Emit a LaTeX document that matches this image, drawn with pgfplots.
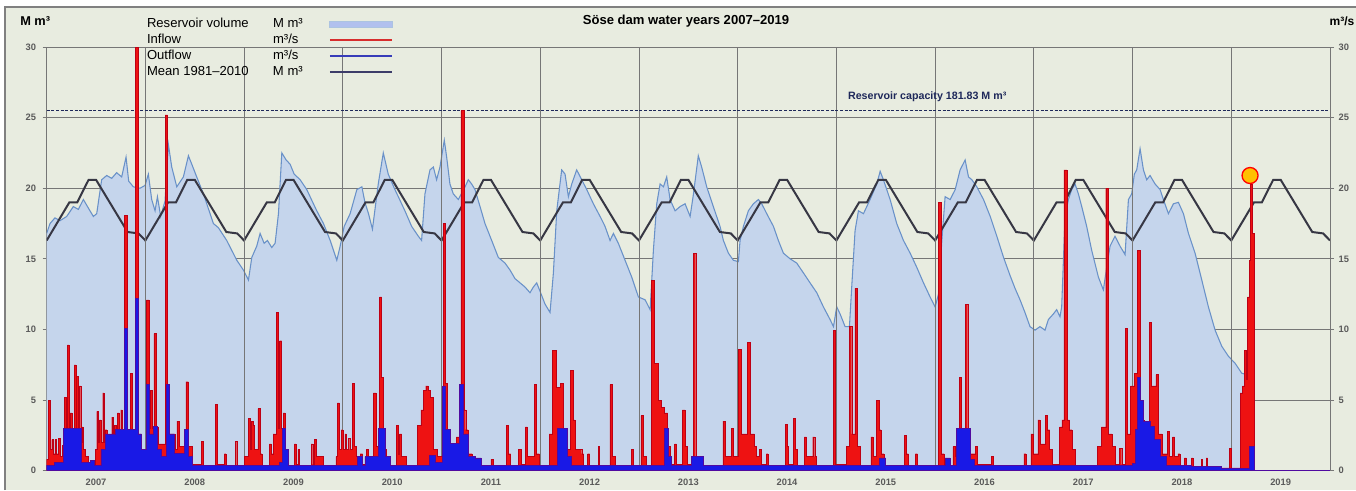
\documentclass[border=0pt]{standalone}
\usepackage{fontspec}
\setmainfont{Liberation Sans}
\usepackage{pgfplots}
\pgfplotsset{compat=1.18}
\definecolor{bgc}{RGB}{232,236,224}
\definecolor{volfill}{RGB}{197,213,236}
\definecolor{volline}{RGB}{105,145,200}
\definecolor{infill}{RGB}{238,18,18}
\definecolor{inedge}{RGB}{190,0,20}
\definecolor{outfill}{RGB}{25,25,230}
\definecolor{outedge}{RGB}{80,10,160}
\definecolor{meanc}{RGB}{55,55,68}
\definecolor{capc}{RGB}{30,40,90}
\definecolor{gridc}{RGB}{118,118,118}
\definecolor{tickc}{RGB}{90,90,90}
\definecolor{orangec}{RGB}{255,192,0}
\begin{document}
\begin{tikzpicture}
\useasboundingbox (0,0) rectangle (1017pt,367.5pt);
\fill[white] (0,0) rectangle (1017pt,367.5pt);
\fill[bgc] (3.75pt,0) rectangle (1017pt,362.25pt);
\draw[gray, line width=0.8pt] (3.75pt,0) -- (3.75pt,362.25pt) -- (1017pt,362.25pt);
\node[font=\fontsize{9.8}{11}\selectfont\bfseries] at (514.5pt,351.5pt) {Söse dam water years 2007–2019};
\node[anchor=west, inner sep=0pt, font=\fontsize{9.6}{11}\selectfont\bfseries] at (15pt,351.5pt) {M m³};
\node[anchor=east, inner sep=0pt, font=\fontsize{9}{11}\selectfont\bfseries] at (1016pt,351.5pt) {m³/s};
\begin{axis}[
  at={(35pt,14.5pt)}, anchor=south west, scale only axis,
  width=962.5pt, height=317.75pt,
  xmin=0, xmax=13, ymin=0, ymax=30,
  axis line style={draw=gridc, line width=0.7pt},
  xtick={0.5,1.5,2.5,3.5,4.5,5.5,6.5,7.5,8.5,9.5,10.5,11.5,12.5},
  xticklabels={2007,2008,2009,2010,2011,2012,2013,2014,2015,2016,2017,2018,2019},
  x tick style={draw=none}, x tick label style={yshift=0pt},
  ytick={0,5,10,15,20,25,30}, ytick pos=left,
  tick align=outside, major tick length=3pt,
  y tick style={draw=gridc, line width=0.7pt},
  y tick label style={xshift=-1.5pt},
  ymajorgrids, grid style={draw=gridc, line width=0.7pt},
  /pgf/number format/assume math mode=true,
  ticklabel style={font=\fontsize{7}{8}\selectfont\bfseries, text=tickc},
  legend style={at={(axis description cs:0.0782,1.070)}, anchor=north west,
    draw=none, fill=none, inner sep=0pt, outer sep=0pt,
    font=\fontsize{9.8}{11}\selectfont, row sep=2pt, column sep=1.5pt,
    nodes={inner sep=0pt, text height=7.5pt, text depth=2.5pt}},
  legend plot pos=right, legend cell align=left,
]
\addlegendimage{legend image code/.code={\draw[fill=volfill!90!blue, draw=volline!55!white, line width=0.6pt] (0pt,-2.2pt) rectangle (47pt,2.2pt);}}
\addlegendentry{\makebox[94.5pt][l]{Reservoir volume}\makebox[40pt][l]{M m³}}
\addlegendimage{legend image code/.code={\draw[color={rgb,255:red,215;green,45;blue,45}, line width=1.5pt] (0pt,0pt) -- (47pt,0pt);}}
\addlegendentry{\makebox[94.5pt][l]{Inflow}\makebox[40pt][l]{m³/s}}
\addlegendimage{legend image code/.code={\draw[color={rgb,255:red,55;green,60;blue,185}, line width=2.2pt] (0pt,0pt) -- (47pt,0pt);}}
\addlegendentry{\makebox[94.5pt][l]{Outflow}\makebox[40pt][l]{m³/s}}
\addlegendimage{legend image code/.code={\draw[color={rgb,255:red,60;green,60;blue,105}, line width=2.2pt] (0pt,0pt) -- (47pt,0pt);}}
\addlegendentry{\makebox[94.5pt][l]{Mean 1981–2010}\makebox[40pt][l]{M m³}}
% reservoir volume
\addplot[draw=none, fill=volfill, forget plot] coordinates {
(0.000,16.8) (0.034,17.5) (0.084,17.9) (0.135,17.7) (0.203,18.0) (0.270,18.7) (0.321,18.5) (0.372,19.2) (0.422,18.6) (0.473,18.0) (0.507,18.2) (0.557,20.6) (0.608,20.9) (0.659,20.7) (0.709,21.1) (0.760,20.8) (0.804,22.2) (0.831,20.5) (0.878,20.1) (0.946,20.0) (0.997,20.2)
(1.030,21.0) (1.064,19.2) (1.098,18.4) (1.122,19.4) (1.155,18.0) (1.199,19.1) (1.233,23.1) (1.267,21.5) (1.318,20.1) (1.385,20.8) (1.436,22.3) (1.470,21.7) (1.520,20.8) (1.588,19.6) (1.689,17.5) (1.740,17.2) (1.824,16.3) (1.926,14.9) (1.993,14.2)
(2.044,13.5) (2.078,15.1) (2.128,15.9) (2.162,16.8) (2.203,16.1) (2.236,16.3) (2.280,15.8) (2.314,16.1) (2.348,18.2) (2.382,22.5) (2.426,22.0) (2.466,21.7) (2.507,21.0) (2.568,20.6) (2.635,19.9) (2.736,18.4) (2.804,17.5) (2.872,16.3) (2.939,14.9) (2.973,15.9)
(3.014,17.3) (3.074,18.2) (3.142,19.9) (3.193,20.1) (3.224,19.0) (3.260,18.2) (3.300,17.1) (3.359,20.3) (3.410,22.5) (3.460,21.0) (3.528,19.9) (3.562,19.4) (3.629,18.4) (3.697,17.3) (3.765,16.6) (3.798,16.3) (3.832,19.6) (3.883,21.3) (3.917,21.5) (3.950,20.6) (3.984,21.5)
(4.028,23.4) (4.052,22.2) (4.085,20.3) (4.119,19.6) (4.170,19.2) (4.238,20.1) (4.271,20.6) (4.305,20.3) (4.339,19.9) (4.390,18.7) (4.440,17.5) (4.508,16.3) (4.575,15.1) (4.643,14.7) (4.694,14.2) (4.744,13.6) (4.795,13.3) (4.846,13.0) (4.896,12.6) (4.930,13.0) (4.964,13.3) (4.998,12.7)
(5.048,11.8) (5.099,11.2) (5.133,14.0) (5.167,18.4) (5.217,21.3) (5.251,21.0) (5.285,19.4) (5.319,20.3) (5.369,21.3) (5.420,20.6) (5.471,19.9) (5.538,18.9) (5.606,18.0) (5.656,17.3) (5.707,16.3) (5.741,16.8) (5.791,16.1) (5.859,14.9) (5.927,13.7) (5.994,12.3)
(6.062,12.1) (6.113,11.4) (6.146,15.6) (6.180,18.9) (6.214,20.3) (6.248,20.1) (6.281,20.8) (6.315,19.2) (6.366,18.4) (6.416,18.7) (6.467,18.9) (6.518,18.0) (6.550,19.5) (6.601,22.3) (6.635,21.5) (6.686,20.1) (6.753,18.7) (6.821,17.3) (6.855,16.3) (6.906,15.4) (6.956,14.9)
(7.007,14.8) (7.024,16.3) (7.058,17.3) (7.108,18.4) (7.159,18.9) (7.210,19.2) (7.243,18.9) (7.294,18.2) (7.362,17.3) (7.412,16.3) (7.463,15.4) (7.531,15.0) (7.598,14.7) (7.666,14.0) (7.733,13.3) (7.801,12.6) (7.868,11.6) (7.936,10.7) (7.970,10.2)
(8.003,11.6) (8.037,11.1) (8.088,10.2) (8.132,10.2) (8.155,13.0) (8.189,17.0) (8.223,18.4) (8.274,18.2) (8.341,19.2) (8.409,20.3) (8.443,21.2) (8.476,20.6) (8.544,19.2) (8.611,17.5) (8.679,16.3) (8.747,15.4) (8.814,14.4) (8.882,13.3) (8.949,12.3)
(9.000,11.6) (9.034,12.5) (9.068,16.3) (9.101,19.4) (9.152,19.2) (9.203,19.9) (9.253,21.3) (9.304,22.0) (9.338,20.8) (9.372,20.6) (9.422,20.1) (9.490,19.2) (9.558,18.0) (9.625,16.6) (9.693,15.1) (9.760,13.8) (9.810,12.9) (9.860,12.1) (9.910,11.2) (9.961,10.2)
(10.012,9.95) (10.062,10.2) (10.113,9.95) (10.147,10.7) (10.198,11.1) (10.231,11.4) (10.265,10.9) (10.282,11.6) (10.316,18.0) (10.350,19.2) (10.383,19.9) (10.417,20.3) (10.451,19.6) (10.485,18.7) (10.535,17.3) (10.586,15.6) (10.654,13.7) (10.704,12.8) (10.738,14.4) (10.772,15.9) (10.822,16.6) (10.873,15.9) (10.924,15.3) (10.958,19.2) (10.991,19.6)
(11.018,21.0) (11.042,21.3) (11.076,22.8) (11.110,21.3) (11.143,20.6) (11.177,20.9) (11.228,20.3) (11.279,19.9) (11.312,19.2) (11.363,18.2) (11.414,18.9) (11.464,19.0) (11.515,18.2) (11.566,16.8) (11.633,15.4) (11.701,13.5) (11.768,11.6) (11.836,9.95) (11.904,8.8) (11.971,8.1)
(12.039,7.6) (12.106,6.9) (12.157,6.8) (12.160,0)
} \closedcycle;
\addplot[draw=volline, line width=0.8pt, forget plot] coordinates {
(0.000,16.8) (0.034,17.5) (0.084,17.9) (0.135,17.7) (0.203,18.0) (0.270,18.7) (0.321,18.5) (0.372,19.2) (0.422,18.6) (0.473,18.0) (0.507,18.2) (0.557,20.6) (0.608,20.9) (0.659,20.7) (0.709,21.1) (0.760,20.8) (0.804,22.2) (0.831,20.5) (0.878,20.1) (0.946,20.0) (0.997,20.2)
(1.030,21.0) (1.064,19.2) (1.098,18.4) (1.122,19.4) (1.155,18.0) (1.199,19.1) (1.233,23.1) (1.267,21.5) (1.318,20.1) (1.385,20.8) (1.436,22.3) (1.470,21.7) (1.520,20.8) (1.588,19.6) (1.689,17.5) (1.740,17.2) (1.824,16.3) (1.926,14.9) (1.993,14.2)
(2.044,13.5) (2.078,15.1) (2.128,15.9) (2.162,16.8) (2.203,16.1) (2.236,16.3) (2.280,15.8) (2.314,16.1) (2.348,18.2) (2.382,22.5) (2.426,22.0) (2.466,21.7) (2.507,21.0) (2.568,20.6) (2.635,19.9) (2.736,18.4) (2.804,17.5) (2.872,16.3) (2.939,14.9) (2.973,15.9)
(3.014,17.3) (3.074,18.2) (3.142,19.9) (3.193,20.1) (3.224,19.0) (3.260,18.2) (3.300,17.1) (3.359,20.3) (3.410,22.5) (3.460,21.0) (3.528,19.9) (3.562,19.4) (3.629,18.4) (3.697,17.3) (3.765,16.6) (3.798,16.3) (3.832,19.6) (3.883,21.3) (3.917,21.5) (3.950,20.6) (3.984,21.5)
(4.028,23.4) (4.052,22.2) (4.085,20.3) (4.119,19.6) (4.170,19.2) (4.238,20.1) (4.271,20.6) (4.305,20.3) (4.339,19.9) (4.390,18.7) (4.440,17.5) (4.508,16.3) (4.575,15.1) (4.643,14.7) (4.694,14.2) (4.744,13.6) (4.795,13.3) (4.846,13.0) (4.896,12.6) (4.930,13.0) (4.964,13.3) (4.998,12.7)
(5.048,11.8) (5.099,11.2) (5.133,14.0) (5.167,18.4) (5.217,21.3) (5.251,21.0) (5.285,19.4) (5.319,20.3) (5.369,21.3) (5.420,20.6) (5.471,19.9) (5.538,18.9) (5.606,18.0) (5.656,17.3) (5.707,16.3) (5.741,16.8) (5.791,16.1) (5.859,14.9) (5.927,13.7) (5.994,12.3)
(6.062,12.1) (6.113,11.4) (6.146,15.6) (6.180,18.9) (6.214,20.3) (6.248,20.1) (6.281,20.8) (6.315,19.2) (6.366,18.4) (6.416,18.7) (6.467,18.9) (6.518,18.0) (6.550,19.5) (6.601,22.3) (6.635,21.5) (6.686,20.1) (6.753,18.7) (6.821,17.3) (6.855,16.3) (6.906,15.4) (6.956,14.9)
(7.007,14.8) (7.024,16.3) (7.058,17.3) (7.108,18.4) (7.159,18.9) (7.210,19.2) (7.243,18.9) (7.294,18.2) (7.362,17.3) (7.412,16.3) (7.463,15.4) (7.531,15.0) (7.598,14.7) (7.666,14.0) (7.733,13.3) (7.801,12.6) (7.868,11.6) (7.936,10.7) (7.970,10.2)
(8.003,11.6) (8.037,11.1) (8.088,10.2) (8.132,10.2) (8.155,13.0) (8.189,17.0) (8.223,18.4) (8.274,18.2) (8.341,19.2) (8.409,20.3) (8.443,21.2) (8.476,20.6) (8.544,19.2) (8.611,17.5) (8.679,16.3) (8.747,15.4) (8.814,14.4) (8.882,13.3) (8.949,12.3)
(9.000,11.6) (9.034,12.5) (9.068,16.3) (9.101,19.4) (9.152,19.2) (9.203,19.9) (9.253,21.3) (9.304,22.0) (9.338,20.8) (9.372,20.6) (9.422,20.1) (9.490,19.2) (9.558,18.0) (9.625,16.6) (9.693,15.1) (9.760,13.8) (9.810,12.9) (9.860,12.1) (9.910,11.2) (9.961,10.2)
(10.012,9.95) (10.062,10.2) (10.113,9.95) (10.147,10.7) (10.198,11.1) (10.231,11.4) (10.265,10.9) (10.282,11.6) (10.316,18.0) (10.350,19.2) (10.383,19.9) (10.417,20.3) (10.451,19.6) (10.485,18.7) (10.535,17.3) (10.586,15.6) (10.654,13.7) (10.704,12.8) (10.738,14.4) (10.772,15.9) (10.822,16.6) (10.873,15.9) (10.924,15.3) (10.958,19.2) (10.991,19.6)
(11.018,21.0) (11.042,21.3) (11.076,22.8) (11.110,21.3) (11.143,20.6) (11.177,20.9) (11.228,20.3) (11.279,19.9) (11.312,19.2) (11.363,18.2) (11.414,18.9) (11.464,19.0) (11.515,18.2) (11.566,16.8) (11.633,15.4) (11.701,13.5) (11.768,11.6) (11.836,9.95) (11.904,8.8) (11.971,8.1)
(12.039,7.6) (12.106,6.9) (12.157,6.8)
};
% mean 1981-2010
\addplot[draw=meanc, line width=1.5pt, forget plot] coordinates {
(0,16.3) (0.23,19.0) (0.31,19.0) (0.425,20.6) (0.5,20.6) (0.82,16.9) (0.93,16.8)
(1,16.3) (1.23,19.0) (1.31,19.0) (1.425,20.6) (1.5,20.6) (1.82,16.9) (1.93,16.8)
(2,16.3) (2.23,19.0) (2.31,19.0) (2.425,20.6) (2.5,20.6) (2.82,16.9) (2.93,16.8)
(3,16.3) (3.23,19.0) (3.31,19.0) (3.425,20.6) (3.5,20.6) (3.82,16.9) (3.93,16.8)
(4,16.3) (4.23,19.0) (4.31,19.0) (4.425,20.6) (4.5,20.6) (4.82,16.9) (4.93,16.8)
(5,16.3) (5.23,19.0) (5.31,19.0) (5.425,20.6) (5.5,20.6) (5.82,16.9) (5.93,16.8)
(6,16.3) (6.23,19.0) (6.31,19.0) (6.425,20.6) (6.5,20.6) (6.82,16.9) (6.93,16.8)
(7,16.3) (7.23,19.0) (7.31,19.0) (7.425,20.6) (7.5,20.6) (7.82,16.9) (7.93,16.8)
(8,16.3) (8.23,19.0) (8.31,19.0) (8.425,20.6) (8.5,20.6) (8.82,16.9) (8.93,16.8)
(9,16.3) (9.23,19.0) (9.31,19.0) (9.425,20.6) (9.5,20.6) (9.82,16.9) (9.93,16.8)
(10,16.3) (10.23,19.0) (10.31,19.0) (10.425,20.6) (10.5,20.6) (10.82,16.9) (10.93,16.8)
(11,16.3) (11.23,19.0) (11.31,19.0) (11.425,20.6) (11.5,20.6) (11.82,16.9) (11.93,16.8)
(12,16.3) (12.23,19.0) (12.31,19.0) (12.425,20.6) (12.5,20.6) (12.82,16.9) (12.93,16.8)
(13,16.3)
};
% vertical grid lines
\addplot[draw=gridc, line width=0.7pt, forget plot, unbounded coords=jump] coordinates {
(1,0) (1,30) (1,nan) (2,0) (2,30) (2,nan) (3,0) (3,30) (3,nan) (4,0) (4,30) (4,nan)
(5,0) (5,30) (5,nan) (6,0) (6,30) (6,nan) (7,0) (7,30) (7,nan) (8,0) (8,30) (8,nan)
(9,0) (9,30) (9,nan) (10,0) (10,30) (10,nan) (11,0) (11,30) (11,nan) (12,0) (12,30)
};
% reservoir capacity
\addplot[draw=capc, line width=1pt, dash pattern=on 2.2pt off 1.3pt, forget plot] coordinates {(0,25.5) (13,25.5)};
% inflow
\addplot[const plot, fill=infill, draw=inedge, line width=0.3pt, forget plot] coordinates {
(0,0.8) (0.017,5.0) (0.035,1.5) (0.051,2.2) (0.065,1.2) (0.084,2.2) (0.100,1.2) (0.118,2.3) (0.135,1.0) (0.160,1.8) (0.176,5.2) (0.195,2.5) (0.209,8.9) (0.225,2.5) (0.236,4.1) (0.255,2.0) (0.277,7.5) (0.295,3.0) (0.304,6.7) (0.318,3.0) (0.331,6.0) (0.345,2.0) (0.355,3.1) (0.370,1.5) (0.389,1.0) (0.420,0.35) (0.460,0.45) (0.490,1.5) (0.507,4.2) (0.520,2.0) (0.534,3.6) (0.550,2.0) (0.568,5.5) (0.580,2.0) (0.591,2.9) (0.610,1.5) (0.625,1.9) (0.645,1.5) (0.659,3.8) (0.672,2.0) (0.682,3.2) (0.700,1.8) (0.716,4.1) (0.735,2.0) (0.750,4.3) (0.765,1.9) (0.790,18.1) (0.815,2.6) (0.845,6.9) (0.865,2.2) (0.895,30) (0.930,2.6) (0.960,1.5) (0.985,1.2)
(1.010,12.1) (1.035,3.0) (1.050,5.7) (1.070,3.0) (1.085,9.7) (1.105,3.1) (1.130,1.9) (1.200,25.2) (1.225,6.0) (1.245,2.6) (1.300,1.5) (1.320,3.5) (1.345,1.7) (1.410,6.3) (1.435,1.7) (1.470,0.45) (1.570,2.1) (1.590,0.35) (1.710,4.7) (1.730,0.45) (1.800,1.2) (1.815,0.3) (1.910,2.1) (1.925,0.35)
(2.000,1.0) (2.040,3.7) (2.060,1.5) (2.075,3.5) (2.090,3.2) (2.105,1.5) (2.140,4.4) (2.160,1.2) (2.180,0.35) (2.255,1.9) (2.275,1.2) (2.295,2.6) (2.325,11.2) (2.345,3.0) (2.360,9.2) (2.380,3.0) (2.395,4.1) (2.415,1.5) (2.450,0.4) (2.510,1.9) (2.525,0.45) (2.545,1.5) (2.560,0.35) (2.680,1.9) (2.695,0.45) (2.715,2.2) (2.730,1.0) (2.800,0.35) (2.930,1.0) (2.945,4.8) (2.965,1.5) (2.985,2.9)
(3.000,1.5) (3.020,2.6) (3.035,1.5) (3.055,2.3) (3.070,1.5) (3.100,6.2) (3.120,1.7) (3.140,1.0) (3.175,1.2) (3.200,0.45) (3.241,1.5) (3.260,0.45) (3.310,5.5) (3.335,1.7) (3.372,12.3) (3.392,6.6) (3.410,1.5) (3.440,0.35) (3.540,3.2) (3.560,1.2) (3.575,2.6) (3.595,1.0) (3.640,0.35) (3.755,3.2) (3.790,4.3) (3.815,5.7) (3.840,6.0) (3.865,5.7) (3.890,5.2) (3.915,1.5) (3.960,1.0)
(4.018,17.5) (4.040,6.2) (4.060,2.4) (4.085,1.5) (4.150,2.4) (4.195,25.5) (4.225,4.3) (4.245,2.9) (4.270,1.2) (4.310,0.4) (4.500,0.8) (4.520,0.3) (4.655,3.2) (4.675,1.2) (4.700,0.4) (4.775,1.5) (4.810,0.45) (4.850,3.1) (4.870,1.0) (4.940,6.1) (4.960,1.2) (4.990,0.4)
(5.090,2.6) (5.120,8.5) (5.165,5.9) (5.200,6.2) (5.235,2.6) (5.265,1.5) (5.305,7.1) (5.330,3.6) (5.350,1.5) (5.420,1.2) (5.440,0.35) (5.480,1.2) (5.500,0.35) (5.585,1.7) (5.600,0.35) (5.705,6.1) (5.730,1.0) (5.760,0.35) (5.920,1.5) (5.940,0.35)
(6.020,3.9) (6.040,1.0) (6.070,0.35) (6.128,13.5) (6.155,7.6) (6.195,5.0) (6.225,4.5) (6.255,4.1) (6.290,1.7) (6.320,0.45) (6.360,1.9) (6.380,0.45) (6.440,4.3) (6.465,1.7) (6.490,0.45) (6.550,15.4) (6.575,1.0) (6.600,0.3) (6.850,3.5) (6.870,1.0) (6.935,3.0) (6.955,1.0)
(7.010,8.6) (7.035,2.6) (7.100,9.1) (7.125,2.6) (7.170,1.7) (7.190,1.0) (7.220,1.5) (7.240,0.45) (7.290,1.2) (7.305,0.35) (7.480,3.3) (7.500,1.7) (7.515,0.45) (7.565,3.7) (7.585,1.5) (7.600,0.4) (7.675,2.4) (7.695,1.0) (7.760,2.4) (7.780,1.0) (7.800,0.3) (7.968,9.95) (7.990,0.45)
(8.100,1.7) (8.130,10.2) (8.155,2.6) (8.188,12.9) (8.212,1.7) (8.240,0.4) (8.350,2.4) (8.370,1.0) (8.408,5.0) (8.430,2.9) (8.450,1.2) (8.480,0.35) (8.690,2.5) (8.710,1.2) (8.730,0.35) (8.800,1.2) (8.820,0.35)
(9.035,19.0) (9.065,1.2) (9.090,0.35) (9.180,1.7) (9.200,1.0) (9.245,6.6) (9.265,1.7) (9.305,11.8) (9.330,2.2) (9.350,1.2) (9.410,1.7) (9.430,0.45) (9.570,1.0) (9.590,0.3) (9.900,1.2) (9.920,0.35) (9.970,2.6) (9.990,1.2)
(10.040,3.6) (10.060,1.9) (10.115,3.9) (10.135,2.9) (10.160,1.5) (10.190,0.45) (10.260,3.1) (10.285,3.6) (10.305,21.3) (10.335,3.6) (10.360,2.9) (10.385,1.5) (10.420,0.35) (10.645,1.7) (10.685,3.1) (10.728,20.0) (10.755,2.6) (10.790,1.7) (10.820,0.45) (10.865,1.6) (10.890,0.45) (10.930,10.1) (10.950,2.6) (10.980,6.0)
(11.015,6.9) (11.050,15.6) (11.075,3.6) (11.115,2.9) (11.168,10.5) (11.190,6.0) (11.235,6.8) (11.260,2.6) (11.300,1.2) (11.355,2.8) (11.375,1.0) (11.405,2.4) (11.425,1.0) (11.460,1.2) (11.480,0.35) (11.525,0.9) (11.545,0.3) (11.595,0.9) (11.610,0.3) (11.695,0.8) (11.710,0.3) (11.745,0.9) (11.760,0.2) (11.980,1.6)
(12.000,0.2) (12.090,5.5) (12.115,6.0) (12.130,8.5) (12.150,6.5) (12.165,12.3) (12.180,14.9) (12.190,20.3) (12.215,16.8) (12.235,0) (13,0)
} \closedcycle;
% outflow
\addplot[const plot, fill=outfill, draw=outedge, line width=0.6pt, forget plot] coordinates {
(0,0.4) (0.080,0.6) (0.169,3.0) (0.355,0.6) (0.440,0.75) (0.480,0.4) (0.550,1.5) (0.600,2.6) (0.700,2.9) (0.785,10.1) (0.815,2.9) (0.900,12.2) (0.930,2.6) (0.960,1.5)
(1.010,6.1) (1.040,2.6) (1.080,3.1) (1.120,1.5) (1.160,1.0) (1.215,6.1) (1.245,2.6) (1.290,1.2) (1.400,2.9) (1.440,1.0) (1.480,0.35) (2.360,0.6) (2.390,3.0) (2.420,1.5) (2.450,0.35)
(3.150,1.0) (3.200,0.4) (3.224,1.0) (3.360,3.0) (3.430,1.0) (3.480,0.35) (3.875,1.1) (3.935,0.6) (4.010,6.0) (4.040,2.9) (4.090,1.9) (4.185,6.1) (4.225,2.6) (4.270,1.0) (4.340,0.9) (4.400,0.35)
(5.170,3.0) (5.270,1.0) (5.320,0.35) (6.255,3.0) (6.300,1.0) (6.330,0.35) (6.530,1.0) (6.650,0.35) (8.440,0.9) (8.500,0.35) (9.100,0.9) (9.150,0.4) (9.220,3.0) (9.355,0.8) (9.400,0.35)
(11.000,0.5) (11.025,2.9) (11.050,6.6) (11.080,5.0) (11.105,3.5) (11.180,3.1) (11.220,2.2) (11.285,1.0) (11.340,0.4) (11.600,0.3) (11.900,0.15) (12.180,1.7) (12.235,0) (13,0)
} \closedcycle;
% highlighted point
\addplot[only marks, mark=*, mark size=6pt, mark options={fill=orangec, draw=red, line width=1pt}, forget plot] coordinates {(12.19,20.9)};
\node[font=\fontsize{8}{9.6}\selectfont\bfseries, text=capc] at (axis cs:8.92,26.5) {Reservoir capacity 181.83 M m³};
\end{axis}
\begin{axis}[
  at={(35pt,14.5pt)}, anchor=south west, scale only axis,
  width=962.5pt, height=317.75pt,
  xmin=0, xmax=13, ymin=0, ymax=30,
  axis x line=none, axis y line*=right,
  axis line style={draw=gridc, line width=0.7pt},
  ytick={0,5,10,15,20,25,30},
  tick align=outside, major tick length=3pt,
  y tick style={draw=gridc, line width=0.7pt},
  /pgf/number format/assume math mode=true,
  ticklabel style={font=\fontsize{7}{8}\selectfont\bfseries, text=tickc},
]
\end{axis}
\end{tikzpicture}
\end{document}
